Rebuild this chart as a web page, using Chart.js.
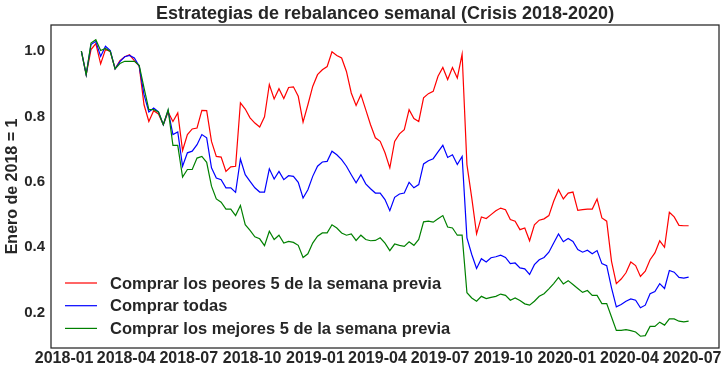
<!DOCTYPE html>
<html><head><meta charset="utf-8">
<script src="https://cdn.jsdelivr.net/npm/chart.js@4.4.1/dist/chart.umd.min.js"></script>
<style>html,body{margin:0;padding:0;background:#fff;}canvas{display:block;}</style>
</head><body>
<canvas id="c" width="727" height="376"></canvas>
<script>
// ---- data ----
const startDate = '2018-01-26';   // first weekly observation
const nWeeks = 127;               // weekly observations
const xTickLabels = ['2018-01','2018-04','2018-07','2018-10','2019-01','2019-04','2019-07','2019-10','2020-01','2020-04','2020-07'];
const yTickValues = [0.2, 0.4, 0.6, 0.8, 1.0];
const yLimits = [0.092, 1.080];
const seriesNames = ['Comprar los peores 5 de la semana previa','Comprar todas','Comprar los mejores 5 de la semana previa'];
const titleText = 'Estrategias de rebalanceo semanal (Crisis 2018-2020)';
const yTitle = 'Enero de 2018 = 1';

const peores = [1.000,0.928,1.005,1.023,0.961,1.005,0.999,0.946,0.971,0.983,
0.989,0.971,0.954,0.836,0.785,0.818,0.808,0.775,0.814,0.785,
0.811,0.696,0.745,0.762,0.765,0.819,0.818,0.724,0.678,0.676,
0.632,0.646,0.648,0.842,0.823,0.796,0.780,0.768,0.799,0.898,
0.854,0.885,0.855,0.889,0.891,0.862,0.783,0.836,0.892,0.928,
0.943,0.953,0.998,0.987,0.979,0.938,0.872,0.834,0.867,0.821,
0.775,0.735,0.724,0.689,0.643,0.724,0.747,0.760,0.821,0.794,
0.785,0.857,0.870,0.877,0.923,0.950,0.913,0.950,0.918,0.991,
0.653,0.551,0.441,0.493,0.488,0.500,0.512,0.520,0.515,0.485,
0.480,0.454,0.459,0.420,0.469,0.483,0.487,0.497,0.541,0.576,
0.548,0.566,0.569,0.513,0.515,0.517,0.517,0.548,0.490,0.480,
0.357,0.289,0.303,0.322,0.355,0.344,0.311,0.327,0.362,0.383,
0.420,0.400,0.507,0.493,0.467,0.466,0.466];

const todas = [1.000,0.928,1.020,1.030,0.984,1.015,1.002,0.946,0.968,0.983,
0.987,0.979,0.954,0.867,0.814,0.826,0.814,0.775,0.818,0.745,
0.753,0.648,0.689,0.694,0.714,0.745,0.735,0.643,0.612,0.607,
0.582,0.582,0.568,0.670,0.622,0.602,0.582,0.569,0.569,0.640,
0.609,0.632,0.607,0.619,0.617,0.599,0.551,0.576,0.617,0.648,
0.661,0.663,0.694,0.683,0.668,0.648,0.622,0.597,0.622,0.594,
0.579,0.566,0.566,0.546,0.512,0.553,0.563,0.566,0.599,0.582,
0.592,0.655,0.665,0.671,0.692,0.712,0.675,0.683,0.653,0.678,
0.429,0.378,0.335,0.365,0.355,0.368,0.371,0.376,0.369,0.350,
0.352,0.337,0.334,0.317,0.347,0.362,0.369,0.385,0.413,0.441,
0.417,0.427,0.418,0.393,0.385,0.391,0.380,0.390,0.350,0.344,
0.276,0.218,0.225,0.235,0.242,0.238,0.215,0.223,0.258,0.265,
0.289,0.274,0.329,0.324,0.308,0.306,0.309];

const mejores = [1.000,0.928,1.025,1.035,1.002,1.008,0.999,0.946,0.962,0.969,
0.969,0.969,0.957,0.888,0.821,0.821,0.814,0.775,0.821,0.712,
0.712,0.615,0.638,0.638,0.673,0.678,0.660,0.587,0.548,0.538,
0.517,0.517,0.497,0.528,0.469,0.452,0.432,0.426,0.405,0.449,
0.424,0.437,0.413,0.418,0.415,0.406,0.369,0.380,0.413,0.434,
0.444,0.444,0.469,0.459,0.444,0.437,0.441,0.421,0.437,0.424,
0.420,0.421,0.429,0.413,0.390,0.410,0.406,0.403,0.417,0.406,
0.424,0.478,0.480,0.477,0.487,0.497,0.462,0.459,0.437,0.437,
0.261,0.245,0.235,0.250,0.243,0.247,0.250,0.257,0.253,0.238,
0.245,0.237,0.227,0.223,0.235,0.250,0.258,0.273,0.289,0.308,
0.288,0.298,0.286,0.274,0.262,0.268,0.253,0.253,0.228,0.228,
0.187,0.146,0.146,0.148,0.145,0.141,0.128,0.130,0.158,0.158,
0.171,0.162,0.181,0.181,0.174,0.172,0.174];

// ---- helpers ----
const DAY = 86400000;
const t0 = Date.parse(startDate + 'T00:00:00Z');
const dayOf = s => (Date.parse(s + 'T00:00:00Z') - t0) / DAY;
const weekX = Array.from({length: nWeeks}, (_, i) => i * 7);
const xTickValues = xTickLabels.map(l => dayOf(l + '-01'));
const span = weekX[weekX.length - 1] - weekX[0];
const xMin = weekX[0] - 0.05 * span, xMax = weekX[weekX.length - 1] + 0.05 * span;
const toXY = arr => arr.map((v, i) => ({x: weekX[i], y: v}));

const FONT = '"Liberation Sans", Arial, sans-serif';
const INK = '#262626';
Chart.defaults.font.family = FONT;
Chart.defaults.font.weight = 'bold';
Chart.defaults.color = INK;

const frame = {
  id: 'frame',
  afterDatasetsDraw(chart) {
    const {ctx, chartArea: a} = chart;
    ctx.save();
    ctx.strokeStyle = INK; ctx.lineWidth = 1.25;
    ctx.strokeRect(a.left, a.top, a.right - a.left, a.bottom - a.top);
    ctx.restore();
  }
};
const legendBox = {
  id: 'legendBox',
  afterDraw(chart) {
    const {ctx, chartArea: a} = chart;
    ctx.save();
    ctx.font = 'bold 16.5px ' + FONT;
    ctx.textBaseline = 'middle';
    chart.data.datasets.forEach((ds, i) => {
      const y = a.bottom - 65 + i * 22.7;
      const x0 = a.left + 14;
      ctx.strokeStyle = ds.borderColor; ctx.lineWidth = 1.2;
      ctx.beginPath(); ctx.moveTo(x0, y); ctx.lineTo(x0 + 32, y); ctx.stroke();
      ctx.fillStyle = INK;
      ctx.fillText(ds.label, x0 + 45, y + 1);
    });
    ctx.restore();
  }
};

new Chart(document.getElementById('c'), {
  type: 'line',
  data: {
    datasets: [
      {label: seriesNames[0], data: toXY(peores), borderColor: '#ff0000', order: 2},
      {label: seriesNames[1], data: toXY(todas), borderColor: '#0000ff', order: 1},
      {label: seriesNames[2], data: toXY(mejores), borderColor: '#008000', order: 0}
    ].map(d => Object.assign(d, {borderWidth: 1.2, pointRadius: 0, tension: 0, fill: false}))
  },
  options: {
    responsive: false, animation: false, devicePixelRatio: 1,
    layout: {padding: {left: 0, right: 8, top: 0, bottom: 0}},
    plugins: {
      legend: {display: false},
      tooltip: {enabled: false},
      title: {display: true, text: titleText, fullSize: false, color: INK,
        font: {size: 18, weight: 'bold', family: FONT, lineHeight: 1.2},
        padding: {top: 3.4, bottom: 0}}
    },
    scales: {
      x: {
        type: 'linear', min: xMin, max: xMax,
        grid: {display: false, drawTicks: false}, border: {display: false},
        afterBuildTicks: s => { s.ticks = xTickValues.map(v => ({value: v})); },
        afterFit: s => { s.height = 28; },
        ticks: {autoSkip: false, maxRotation: 0, padding: 1, color: INK,
          font: {size: 16, weight: 'bold'},
          callback: v => xTickLabels[xTickValues.indexOf(v)]}
      },
      y: {
        type: 'linear', min: yLimits[0], max: yLimits[1],
        grid: {display: false, drawTicks: false}, border: {display: false},
        afterBuildTicks: s => { s.ticks = yTickValues.map(v => ({value: v})); },
        afterFit: s => { s.width = 51; },
        ticks: {padding: 6, color: INK, font: {size: 15, weight: 'bold'},
          callback: v => v.toFixed(1)},
        title: {display: true, text: yTitle, color: INK, padding: {top: 3, bottom: 0},
          font: {size: 16, weight: 'bold', lineHeight: 1.2}}
      }
    }
  },
  plugins: [frame, legendBox]
});
</script>
</body></html>
